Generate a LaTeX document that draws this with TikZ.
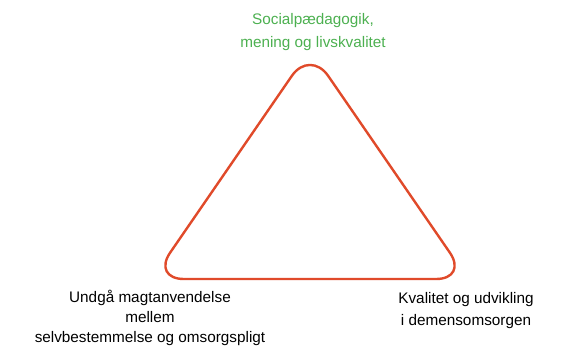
\documentclass[tikz,border=0pt]{standalone}
\usepackage{fontspec}
\setmainfont{Liberation Sans}
\usetikzlibrary{calc}
\definecolor{tri}{HTML}{E04A2A}
\definecolor{grn}{HTML}{4CB050}
\begin{document}
\begin{tikzpicture}[x=1pt,y=-1pt,
  lbl/.style={align=center,inner sep=0pt,font=\fontsize{15.3}{19.7}\selectfont},
  tribox/.style={draw=tri,line width=2.4pt,rounded corners=32pt,line join=round}]
\useasboundingbox (0,0) rectangle (582,349);
\coordinate (apex) at (310,49.5);
\coordinate (bl) at (152,279);
\coordinate (br) at (468,279);
\draw[tribox] ($(apex)!0.5!(br)$) -- (br) -- (bl) -- (apex) -- cycle;
\node[lbl,text=grn,font=\fontsize{15.3}{23}\selectfont] (top) at (313,32) {Socialpædagogik,\\mening og livskvalitet};
\node[lbl] (left) at (150,318) {Undgå magtanvendelse\\mellem\\selvbestemmelse og omsorgspligt};
\node[lbl,font=\fontsize{15.3}{22.5}\selectfont] (right) at (466,310.5) {Kvalitet og udvikling\\i demensomsorgen};
\end{tikzpicture}
\end{document}
